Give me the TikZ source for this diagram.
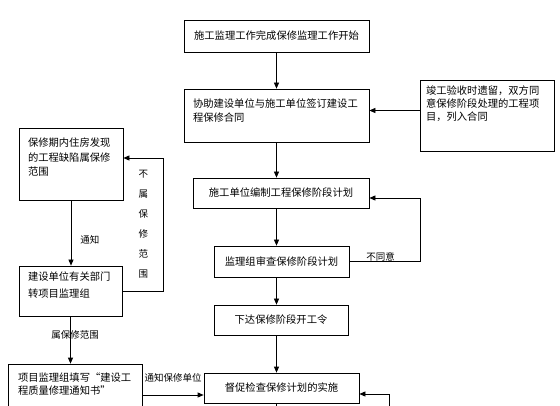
\documentclass[tikz,border=0pt]{standalone}
\usepackage{fontspec}
\newfontfamily\cjk{Noto Sans CJK SC}
\usetikzlibrary{positioning, arrows.meta}

\begin{document}
\begin{tikzpicture}[x=1pt, y=-1pt,
  box/.style={draw, line width=0.7pt, inner sep=0pt, font=\cjk\fontsize{10.3}{14}\selectfont},
  arr/.style={-{Stealth[length=6pt, width=5pt, inset=0pt]}, line width=0.7pt},
  lbl/.style={inner sep=0pt, font=\cjk\fontsize{9.5}{12}\selectfont}]
\useasboundingbox (0,0) rectangle (560,406);
\clip (0,0) rectangle (560,406);
% middle column
\node[box, minimum width=185pt, minimum height=32pt] (start) at (276.5,36) {施工监理工作完成保修监理工作开始};
\node[box, inner xsep=9pt, inner ysep=10pt] (contract) at (276.5,115.5) {\parbox[t][33pt][t]{167pt}{协助建设单位与施工单位签订建设工\\程保修合同}};
\node[box, minimum width=176pt, minimum height=30pt] (plan) at (281,193) {施工单位编制工程保修阶段计划};
\node[box, minimum width=135pt, minimum height=31pt] (review) at (281.5,261.5) {监理组审查保修阶段计划};
\node[box, minimum width=134pt, minimum height=30pt] (order) at (281,320) {下达保修阶段开工令};
\node[box, minimum width=155pt, minimum height=30pt] (supervise) at (281.5,388) {督促检查保修计划的实施};
% right note
\node[box, inner xsep=6pt, inner ysep=6pt, font=\cjk\fontsize{10.3}{13}\selectfont] (note) at (487,115.5) {\parbox[t][59pt][t]{122pt}{竣工验收时遗留，双方同\\意保修阶段处理的工程项\\目，列入合同}};
% left column
\node[box, inner xsep=9pt, inner ysep=10pt, font=\cjk\fontsize{10.3}{14.5}\selectfont] (defect) at (71,164) {\parbox[t][52pt][t]{86pt}{保修期内住房发现\\的工程缺陷属保修\\范围}};
\node[box, inner xsep=9pt, inner ysep=6pt, font=\cjk\fontsize{10.3}{17}\selectfont] (dept) at (70.5,291) {\parbox[t][38pt][t]{85pt}{建设单位有关部门\\转项目监理组}};
\node[box, inner xsep=10pt, inner ysep=9pt, font=\cjk\fontsize{10.3}{13}\selectfont] (notice) at (75,387) {\parbox[t][28pt][t]{114pt}{项目监理组填写“建设工\\程质量修理通知书”}};
\coordinate (inlet) at (389,406);

\draw[arr] (start) -- (contract);
\draw[arr] ([yshift=5pt]note.west) -- ([yshift=5pt]contract.east);
\draw[arr] (contract) -- (contract |- plan.north);
\draw[arr] (contract |- plan.south) -- (contract |- review.north);
\draw[arr] (review.east) -- ++(71,0) node[lbl, above, pos=0.44] {不同意} |- ([yshift=-5pt]plan.east);
\draw[arr] (contract |- review.south) -- (contract |- order.north);
\draw[arr] (contract |- order.south) -- (contract |- supervise.north);
\draw (contract |- supervise.south) -- ++(0,5);
\draw[arr] (defect) -- node[lbl, pos=0.6, right=9pt] {通知} (defect |- dept.north);
\draw[arr] (dept) -- node[lbl, pos=0.4, xshift=4.5pt] {属保修范围} (dept |- notice.north);
\draw[arr] (dept.east) -- ++(41,0) |- node[lbl, pos=0.25, left=15pt, align=center, font=\cjk\fontsize{9.5}{20}\selectfont] {不\\属\\保\\修\\范\\围} ([yshift=6pt]defect.east);
\draw[arr] ([yshift=-8pt]notice.east) -- node[lbl, above=12pt] {通知保修单位} ([yshift=-8pt]notice.east -| supervise.west);
\draw[arr] (inlet) |- ([yshift=-6pt]supervise.east);
\end{tikzpicture}
\end{document}
